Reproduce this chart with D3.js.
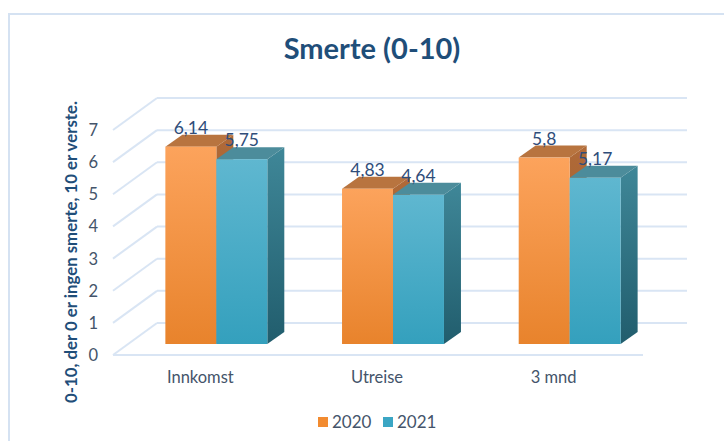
<!DOCTYPE html>
<html>
<head>
<meta charset="utf-8">
<script src="https://cdn.jsdelivr.net/npm/d3@7/dist/d3.min.js"></script>
<style>
html,body{margin:0;padding:0;background:#fff;}
svg{display:block;font-family:Lato,"Open Sans",sans-serif;}
</style>
</head>
<body>
<svg id="chart" width="724" height="441"></svg>
<script>
const categories = ["Innkomst", "Utreise", "3 mnd"];
const seriesNames = ["2020", "2021"];
const values2020 = [6.14, 4.83, 5.8];
const values2021 = [5.75, 4.64, 5.17];
const yTicks = [0, 1, 2, 3, 4, 5, 6, 7];
const title = "Smerte (0-10)";
const yTitle = "0-10, der 0 er ingen smerte, 10 er verste.";

const svg = d3.select("#chart");
const defs = svg.append("defs");

// frame
svg.append("path").attr("d", "M9,441 V14 H724").attr("fill", "none")
  .attr("stroke", "#d5e2f2").attr("stroke-width", 2);

// geometry
const floorY = 355, x0 = 113, x1 = 643;
const dep = {dx: 44, dy: -32};
const barOff = {dx: 15, dy: -11};
const barDep = {dx: 17, dy: -12};

const y = d3.scaleLinear().domain([0, 7]).range([floorY, floorY - 225]);
const x = d3.scaleBand().domain(categories).range([x0, x1]).paddingInner(0.423).paddingOuter(0.2115);
const xs = d3.scaleBand().domain(seriesNames).range([0, x.bandwidth()]);

const grid = "#d9e5f4";
const g = svg.append("g");
yTicks.forEach(t => {
  g.append("line").attr("x1", x0 + dep.dx).attr("x2", x1 + dep.dx)
    .attr("y1", y(t) + dep.dy).attr("y2", y(t) + dep.dy)
    .attr("stroke", grid).attr("stroke-width", 2);
  g.append("line").attr("x1", x0).attr("x2", x0 + dep.dx)
    .attr("y1", y(t)).attr("y2", y(t) + dep.dy)
    .attr("stroke", grid).attr("stroke-width", 2);
});
g.append("line").attr("x1", x0).attr("x2", x1).attr("y1", y(0)).attr("y2", y(0))
  .attr("stroke", grid).attr("stroke-width", 2);

function grad(id, c1, c2) {
  const lg = defs.append("linearGradient").attr("id", id).attr("x1", 0).attr("y1", 0).attr("x2", 0).attr("y2", 1);
  lg.append("stop").attr("offset", "0%").attr("stop-color", c1);
  lg.append("stop").attr("offset", "100%").attr("stop-color", c2);
}
grad("f2020", "#fca35c", "#e8832c");
grad("s2020", "#b06a38", "#9a5a2c");
grad("f2021", "#5fb7d0", "#34a0bd");
grad("s2021", "#3f8798", "#215d6d");
const topCol = {"2020": "#b8743f", "2021": "#4c8c9b"};

const data = categories.map((c, i) => ({cat: c, vals: [{s: "2020", v: values2020[i]}, {s: "2021", v: values2021[i]}]}));

const bars = svg.append("g");
const labels = [];
data.forEach(d => {
  d.vals.forEach(e => {
    const bx = x(d.cat) + xs(e.s) + barOff.dx;
    const bw = xs.bandwidth();
    const by0 = y(0) + barOff.dy;
    const byt = y(e.v) + barOff.dy;
    const gg = bars.append("g");
    gg.append("path").attr("d", `M${bx+bw},${by0} L${bx+bw+barDep.dx},${by0+barDep.dy} L${bx+bw+barDep.dx},${byt+barDep.dy} L${bx+bw},${byt} Z`)
      .attr("fill", `url(#s${e.s})`);
    gg.append("path").attr("d", `M${bx},${byt} L${bx+barDep.dx},${byt+barDep.dy} L${bx+bw+barDep.dx},${byt+barDep.dy} L${bx+bw},${byt} Z`)
      .attr("fill", topCol[e.s]);
    gg.append("rect").attr("x", bx).attr("y", byt).attr("width", bw).attr("height", by0 - byt)
      .attr("fill", `url(#f${e.s})`);
    labels.push({x: bx + bw / 2, y: byt - 13, t: String(e.v).replace(".", ",")});
  });
});
svg.append("g").selectAll("text").data(labels).join("text")
  .attr("x", d => d.x).attr("y", d => d.y)
  .attr("text-anchor", "middle").attr("font-size", 17.5).attr("fill", "#2f4d7a")
  .text(d => d.t);

svg.append("g").selectAll("text").data(yTicks).join("text")
  .attr("x", 98).attr("y", t => y(t) + 6).attr("text-anchor", "end")
  .attr("font-size", 16.5).attr("fill", "#44546a").text(t => t);

svg.append("g").selectAll("text").data(categories).join("text")
  .attr("x", c => x(c) + x.bandwidth() / 2 - 1).attr("y", 383).attr("text-anchor", "middle")
  .attr("font-size", 16.5).attr("fill", "#44546a").text(c => c);

svg.append("text").attr("x", 372).attr("y", 59).attr("text-anchor", "middle")
  .attr("font-size", 29).attr("font-weight", "bold").attr("fill", "#1f4e79").text(title);

svg.append("text").attr("transform", "translate(77,252) rotate(-90)").attr("text-anchor", "middle")
  .attr("font-size", 16.8).attr("font-weight", "bold").attr("fill", "#1f4e79").text(yTitle);

const legColor = {"2020": "#f28b30", "2021": "#3ba6c4"};
const lg = svg.append("g");
const legX = [318, 383];
seriesNames.forEach((s, i) => {
  lg.append("rect").attr("x", legX[i]).attr("y", 417).attr("width", 10).attr("height", 10).attr("fill", legColor[s]);
  lg.append("text").attr("x", legX[i] + 14).attr("y", 428).attr("font-size", 17).attr("fill", "#44546a").text(s);
});
</script>
</body>
</html>
